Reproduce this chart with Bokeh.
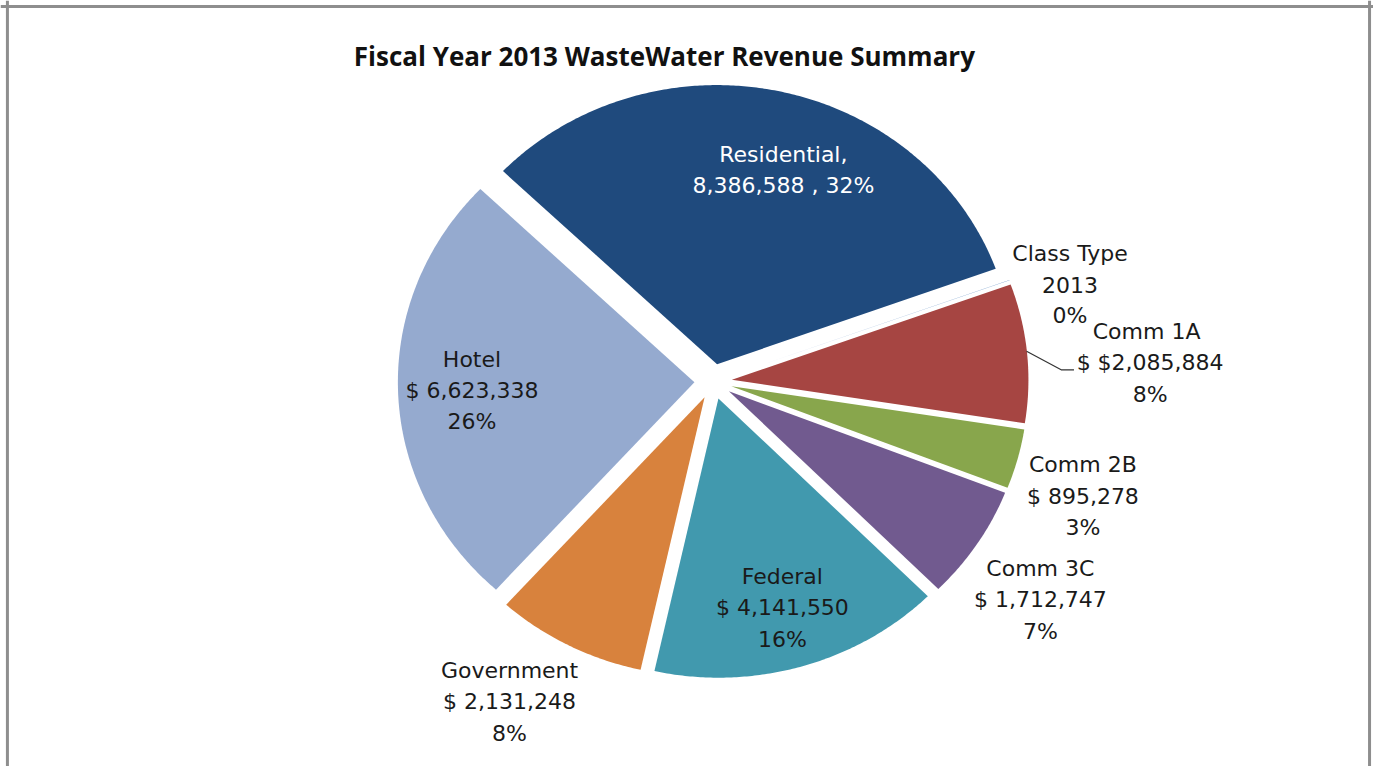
import numpy as np
from bokeh.plotting import figure
from bokeh.models import Range1d, ColumnDataSource, Span
from bokeh.core.properties import value
from bokeh.embed import file_html
from bokeh.resources import INLINE

# ---- data ----
TITLE = "Fiscal Year 2013  WasteWater Revenue Summary"
CATEGORIES = ["Class Type", "Comm 1A", "Comm 2B", "Comm 3C", "Federal", "Government", "Hotel", "Residential"]
VALUES = [2013, 2085884, 895278, 1712747, 4141550, 2131248, 6623338, 8386588]
PERCENTS = [0, 8, 3, 7, 16, 8, 26, 32]
COLORS = ["#4A7EBB", "#A64542", "#88A64C", "#715A8F", "#4199AE", "#D8823D", "#95AACF", "#1F4A7D"]

# ---- layout (reference pixel space 1389 x 782) ----
W, H = 1373, 766
REF_W, REF_H = 1389, 782
CX, CY = 721, 389
RX, RY = 300, 285
EXPLODE = 0.0633
START_DEG = 20.0
LABEL_POS = [(1082, 290), (1163, 370), (1095, 506), (1052, 612), (791, 620), (515, 716), (477, 398), (792, 173)]
LINE_GAP = 32

vals = np.array(VALUES, dtype=float)
spans = vals / vals.sum() * 360.0
ends = START_DEG - np.cumsum(spans)
starts = ends + spans

xs, ys = [], []
for a0, a1 in zip(starts, ends):
    mid = np.radians((a0 + a1) / 2)
    ax = CX + EXPLODE * RX * np.cos(mid)
    ay = CY - EXPLODE * RY * np.sin(mid)
    n = max(3, int(np.ceil((a0 - a1) / 0.5)) + 1)
    t = np.radians(np.linspace(a0, a1, n))
    xs.append(np.concatenate([[ax], ax + RX * np.cos(t)]).tolist())
    ys.append(np.concatenate([[ay], ay - RY * np.sin(t)]).tolist())

p = figure(width=W, height=H, x_range=Range1d(0, REF_W), y_range=Range1d(REF_H, 0),
           output_backend="svg", toolbar_location=None, min_border=0,
           x_axis_location=None, y_axis_location=None)
p.grid.visible = False
p.outline_line_color = None
p.background_fill_color = "white"
p.border_fill_color = "white"

p.patches(xs=xs, ys=ys, fill_color=COLORS, line_color=None)

# chart border
for loc in (7.0, 1385.0):
    p.add_layout(Span(location=loc, dimension="height", line_color="#8E8E8E", line_width=3))
p.add_layout(Span(location=6.0, dimension="width", line_color="#8E8E8E", line_width=3))

# labels
lx, ly, lt, lc = [], [], [], []
for i, name in enumerate(CATEGORIES):
    v, pc = VALUES[i], PERCENTS[i]
    if name == "Residential":
        lines = [name + ",", f"{v:,} , {pc}%"]
    elif name == "Class Type":
        lines = [name, f"{v}", f"{pc}%"]
    elif name == "Comm 1A":
        lines = ["Comm  1A", f"$ ${v:,}", f"{pc}%"]
    else:
        lines = [name, f"$ {v:,}", f"{pc}%"]
    x0, y0 = LABEL_POS[i]
    nl = len(lines)
    for j, s in enumerate(lines):
        lx.append(x0)
        ly.append(y0 + (j - (nl - 1) / 2) * LINE_GAP)
        lt.append(s)
        lc.append("white" if name == "Residential" else "#1A1A1A")

src = ColumnDataSource(dict(x=lx, y=ly, text=lt, color=lc))
p.text(x="x", y="y", text="text", source=src, text_color="color",
       text_font=value("DejaVu Sans"), text_font_size="22px",
       text_align="center", text_baseline="middle")

# leader line for Comm 1A
p.line(x=[1038, 1073, 1086], y=[358, 377, 377], line_color="#333333", line_width=1.2)

# title
p.text(x=[675], y=[57], text=[TITLE], text_font=value("Open Sans"), text_font_style="bold",
       text_font_size="26px", text_align="center", text_baseline="middle", text_color="#111111")

open("out.html", "w").write(file_html(p, INLINE))
